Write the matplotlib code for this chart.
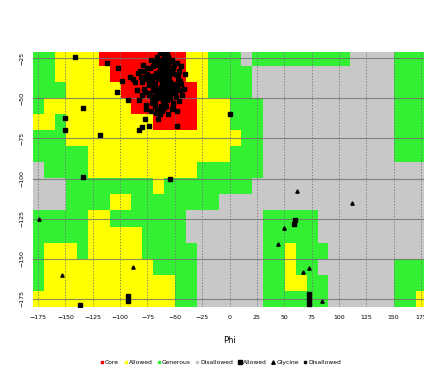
import matplotlib
matplotlib.use("Agg")
import matplotlib.pyplot as plt
import numpy as np
from matplotlib.colors import ListedColormap
from matplotlib.lines import Line2D

# region map, 10x10 degree cells: rows psi -20 -> -180, columns phi -180 -> 180
# R core, Y allowed, G generous, W disallowed
region_rows = [
    "GGYYYYRRRRRRRRYYGGGWGGGGGGGGGWWWWGGG",
    "GGYYYYYRRRRRRRYYGGGGWWWWWWWWWWWWWGGG",
    "GGGYYYYYRRRRRRRYGGGGWWWWWWWWWWWWWGGG",
    "GYYYYYYYYRRRRRRYYYGGGWWWWWWWWWWWWGGG",
    "YYGYYYYYYYYRRRRYYYGGGWWWWWWWWWWWWGGG",
    "GGGYYYYYYYYYYYYYYYYGGWWWWWWWWWWWWGGG",
    "GGGGGYYYYYYYYYYYYYGGGWWWWWWWWWWWWGGG",
    "WGGGGYYYYYYYYYYGGGGGGWWWWWWWWWWWWWWW",
    "WWWGGGGGGGGYGGGGGGGGWWWWWWWWWWWWWWWW",
    "WWWGGGGYYGGGGGGGGWWWWWWWWWWWWWWWWWWW",
    "GGGGGYYGGGGGGGWWWWWWWGGGGGWWWWWWWWWW",
    "GGGGGYYYYYGGGGWWWWWWWGGGGGWWWWWWWWWW",
    "GYYYGYYYYYGGGGGWWWWWWGGYGGGWWWWWWWWW",
    "GYYYYYYYYYYGGGGWWWWWWGGYGGWWWWWWWGGG",
    "GYYYYYYYYYYYYGGWWWWWWGGYYGGWWWWWWGGG",
    "YYYYYYYYYYYYYGGWWWWWWGGGGGGWWWWWWGGY",
]
region_codes = {"R": 0, "Y": 1, "G": 2, "W": 3}
region_colors = ["#ff0000", "#ffff00", "#33f033", "#c8c8c8"]
region_names = ["Core", "Allowed", "Generous", "Disallowed"]

# helix cluster + other residues in allowed regions (phi, psi)
allowed_phi = [-57, -62, -65, -60, -55, -68, -70, -63, -58, -52, -66, -72, -60, -64, -56, -61, -67, -59, -54, -63,
               -69, -74, -62, -57, -65, -60, -53, -66, -71, -58, -62, -64, -50, -48, -55, -60, -67, -73, -76, -63,
               -59, -56, -61, -65, -68, -62, -58, -54, -51, -47, -45, -70, -78, -80, -66, -61, -57, -64, -69, -55,
               -60, -63, -72, -75, -58, -52, -49, -66, -62, -59, -84, -86, -81, -77, -44, -43, -53, -67, -71, -60,
               -72, -68, -64, -60, -56, -52, -48, -46, -75, -71, -67, -63, -59, -55, -51, -47, -44, -78, -74, -70,
               -66, -62, -58, -54, -50, -46, -79, -82, -85, -88, -83, -76, -72, -68, -64, -60, -56, -52, -48, -57,
               -61, -65, -69, -73, -53, -49, -45, -42, -41, -66, -62, -58, -54, -70, -74, -78, -80, -63, -59, -55,
               -112, -102, -98, -91, -103, -93, -83, -80, -77, -74, -76, -65, -48,
               -141, -134, -150, -150, -118, -134, -54, 0, -137, -93, -93, 59, 60, 73, 73, 73]
allowed_psi = [-40, -42, -38, -45, -35, -41, -30, -28, -48, -44, -50, -36, -25, -33, -29, -52, -46, -38, -40, -55,
               -27, -42, -35, -32, -44, -48, -26, -24, -49, -37, -58, -30, -35, -42, -50, -40, -34, -47, -38, -43,
               -23, -45, -31, -27, -53, -39, -55, -47, -29, -38, -45, -36, -33, -40, -57, -36, -51, -26, -43, -33,
               -30, -47, -39, -31, -42, -53, -49, -37, -44, -34, -34, -40, -37, -46, -41, -48, -57, -59, -53, -22,
               -26, -29, -22, -27, -24, -31, -28, -33, -35, -39, -44, -37, -33, -38, -41, -36, -30, -44, -48, -52,
               -47, -50, -45, -43, -47, -52, -29, -33, -45, -38, -51, -54, -58, -55, -60, -56, -60, -55, -58, -21,
               -41, -34, -36, -31, -34, -44, -39, -44, -35, -26, -31, -39, -50, -45, -41, -37, -48, -46, -52, -27,
               -28, -31, -39, -37, -46, -51, -70, -68, -63, -67, -57, -63, -67,
               -24, -56, -62, -70, -73, -99, -100, -60, -179, -176, -173, -128, -126, -172, -175, -178]
gly_phi = [-174, -153, -88, 50, 44, 67, 73, 85, 62, 112]
gly_psi = [-125, -160, -155, -131, -141, -158, -156, -176, -108, -115]

grid = np.array([[region_codes[ch] for ch in row] for row in region_rows])

fig = plt.figure(figsize=(4.24, 3.71), dpi=100)
ax = fig.add_axes([0.0769, 0.1725, 0.9288, 0.686])

ax.imshow(grid, cmap=ListedColormap(region_colors), vmin=0, vmax=3,
          extent=[-180, 180, -180, -20], origin="upper", aspect="auto",
          interpolation="nearest", zorder=0)

ticks = np.arange(-175, 180, 25)
for t in ticks:
    ax.axvline(t, color="#707070", lw=0.6, ls=(0, (1.5, 2)), zorder=1)
for t in np.arange(-175, -20, 25):
    ax.axhline(t, color="#707070", lw=0.8, ls="-", zorder=1, alpha=0.8)

ax.plot(allowed_phi, allowed_psi, "s", color="black", ms=3.2, zorder=3)
ax.plot(gly_phi, gly_psi, "^", color="black", ms=2.4, zorder=3)

ax.set_xlim(-180, 180)
ax.set_ylim(-180, -21.5)
ax.set_xticks(ticks)
ax.set_yticks(np.arange(-175, -20, 25))
ax.tick_params(length=0, labelsize=4.5, pad=6)
for lab in ax.get_yticklabels():
    lab.set_rotation(90)
    lab.set_va("center")
for s in ax.spines.values():
    s.set_visible(False)
ax.set_xlabel("Phi", fontsize=6, labelpad=11)

handles = [Line2D([], [], ls="", marker="s", ms=2, color=c) for c in region_colors]
handles += [Line2D([], [], ls="", marker="s", ms=2.5, color="black"),
            Line2D([], [], ls="", marker="^", ms=2.5, color="black"),
            Line2D([], [], ls="", marker="s", ms=2, color="black", mfc="white")]
labels = region_names + ["Allowed", "Glycine", "Disallowed"]
fig.legend(handles, labels, loc="center", bbox_to_anchor=(0.52, 0.022), ncol=7,
           frameon=False, fontsize=4.3, handletextpad=0.1, columnspacing=0.7,
           handlelength=0.8)

fig.savefig("out.png", dpi=100)
